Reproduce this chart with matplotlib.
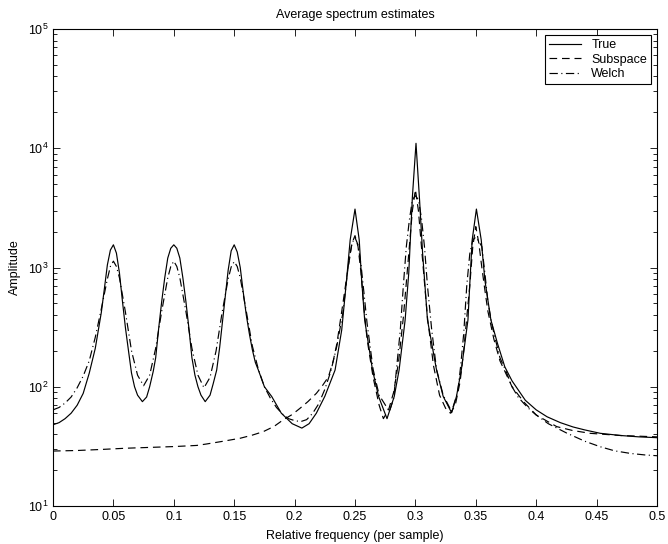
import matplotlib
matplotlib.use("Agg")
import matplotlib.pyplot as plt
from matplotlib.ticker import LogLocator, FixedLocator

plt.rcParams['font.family'] = ['Liberation Sans', 'DejaVu Sans']
plt.rcParams['mathtext.fontset'] = 'custom'
plt.rcParams['mathtext.rm'] = 'Liberation Sans'
plt.rcParams['mathtext.it'] = 'Liberation Sans'
plt.rcParams['lines.scale_dashes'] = False

# (frequency, amplitude)
true_pts = [(0.000, 48), (0.005, 50), (0.010, 54), (0.015, 60), (0.020, 70), (0.025, 88), (0.030, 130),
            (0.035, 210), (0.040, 420), (0.0425, 660), (0.045, 1050), (0.0475, 1400), (0.050, 1550),
            (0.0525, 1320), (0.055, 900), (0.0575, 520), (0.060, 310), (0.0625, 200), (0.065, 130),
            (0.0675, 100), (0.070, 85), (0.074, 75), (0.0775, 82), (0.080, 100), (0.083, 135), (0.085, 175),
            (0.0875, 310), (0.090, 520), (0.0925, 820), (0.095, 1200), (0.0975, 1450), (0.100, 1550),
            (0.1025, 1450), (0.105, 1200), (0.1075, 820), (0.110, 520), (0.1125, 310), (0.115, 175),
            (0.1175, 125), (0.120, 100), (0.1225, 85), (0.126, 75), (0.130, 85), (0.1325, 105), (0.1355, 138),
            (0.138, 215), (0.140, 330), (0.1425, 560), (0.145, 950), (0.1475, 1380), (0.150, 1550),
            (0.1525, 1350), (0.155, 1000), (0.1575, 620), (0.160, 400), (0.1625, 280), (0.165, 205),
            (0.1675, 160), (0.170, 138), (0.175, 100), (0.181, 83), (0.189, 60), (0.198, 49), (0.206, 45),
            (0.212, 49), (0.218, 60), (0.225, 83), (0.2335, 138), (0.239, 299), (0.243, 785), (0.246, 1700),
            (0.250, 3090), (0.2535, 1700), (0.2555, 785), (0.258, 363), (0.2645, 138), (0.2695, 83),
            (0.2765, 54), (0.2825, 83), (0.2865, 138), (0.2915, 363), (0.2945, 900), (0.2975, 3900),
            (0.3005, 11000), (0.3035, 3600), (0.306, 1300), (0.310, 363), (0.3175, 138), (0.323, 83),
            (0.330, 60.5), (0.334, 83), (0.338, 138), (0.3435, 363), (0.3452, 785), (0.347, 1700),
            (0.3505, 3090), (0.3545, 1700), (0.3575, 785), (0.3625, 363), (0.368, 230), (0.374, 147),
            (0.380, 112), (0.391, 77), (0.400, 64), (0.409, 56), (0.420, 50), (0.4305, 46), (0.440, 43.5),
            (0.453, 40.7), (0.470, 39), (0.485, 38), (0.500, 37.4)]

subspace_pts = [(0.000, 28.9), (0.020, 29.2), (0.040, 29.8), (0.060, 30.5), (0.080, 31.0), (0.100, 31.5),
                (0.119, 32.2), (0.127, 33.1), (0.140, 34.8), (0.155, 37), (0.165, 39.3), (0.174, 42),
                (0.183, 46.5), (0.1905, 52.7), (0.198, 58.5), (0.2045, 66), (0.211, 75), (0.218, 88),
                (0.223, 102), (0.228, 121), (0.232, 165), (0.235, 230), (0.240, 500), (0.2425, 750),
                (0.245, 1100), (0.2475, 1600), (0.250, 1850), (0.2525, 1500), (0.255, 900), (0.2575, 450),
                (0.260, 250), (0.265, 120), (0.270, 70), (0.2735, 54), (0.278, 65), (0.282, 90), (0.286, 160),
                (0.290, 380), (0.2925, 750), (0.295, 1500), (0.2975, 3000), (0.300, 4500), (0.3025, 3000),
                (0.305, 1500), (0.3075, 750), (0.310, 380), (0.315, 150), (0.320, 85), (0.325, 66),
                (0.329, 60), (0.333, 70), (0.337, 110), (0.340, 200), (0.3425, 380), (0.345, 700),
                (0.3475, 1500), (0.350, 2200), (0.3525, 1600), (0.355, 1000), (0.3575, 650), (0.360, 430),
                (0.365, 250), (0.370, 165), (0.380, 100), (0.390, 74), (0.400, 58), (0.417, 46.3),
                (0.430, 43), (0.4445, 40.7), (0.470, 39), (0.500, 38)]

welch_pts = [(0.000, 64), (0.005, 67), (0.010, 73), (0.015, 82), (0.020, 98), (0.025, 123), (0.030, 165),
             (0.035, 260), (0.040, 450), (0.045, 800), (0.0475, 1020), (0.050, 1130), (0.0525, 1020),
             (0.055, 820), (0.060, 420), (0.065, 200), (0.070, 125), (0.075, 102), (0.080, 125), (0.085, 210),
             (0.090, 430), (0.095, 820), (0.0975, 1020), (0.100, 1130), (0.1025, 1020), (0.105, 820),
             (0.110, 430), (0.115, 210), (0.120, 125), (0.125, 98), (0.130, 120), (0.135, 200), (0.140, 420),
             (0.145, 800), (0.1475, 1010), (0.150, 1120), (0.1525, 1020), (0.155, 820), (0.160, 430),
             (0.165, 220), (0.170, 140), (0.175, 100), (0.180, 80), (0.185, 67), (0.190, 59), (0.195, 54),
             (0.200, 52), (0.205, 51), (0.210, 53), (0.215, 60), (0.220, 72), (0.225, 95), (0.230, 135),
             (0.235, 220), (0.240, 420), (0.2425, 700), (0.245, 1150), (0.2475, 1600), (0.250, 1780),
             (0.2525, 1550), (0.255, 1050), (0.2575, 600), (0.260, 340), (0.265, 140), (0.270, 85),
             (0.2785, 62), (0.282, 80), (0.2875, 300), (0.290, 700), (0.2925, 1500), (0.295, 2500),
             (0.2975, 3700), (0.300, 4000), (0.3025, 3700), (0.305, 2600), (0.3075, 1500), (0.310, 700),
             (0.3135, 300), (0.3175, 140), (0.323, 85), (0.330, 62), (0.335, 90), (0.3375, 150), (0.340, 280),
             (0.3425, 700), (0.345, 1300), (0.3475, 1700), (0.350, 1800), (0.3525, 1650), (0.355, 1500),
             (0.3575, 900), (0.360, 520), (0.3625, 370), (0.365, 280), (0.370, 175), (0.375, 135),
             (0.380, 100), (0.385, 82), (0.390, 72), (0.395, 64), (0.400, 58), (0.410, 49), (0.425, 41),
             (0.440, 35), (0.453, 31.4), (0.465, 29), (0.478, 27.6), (0.490, 26.8), (0.500, 26.4)]

series_labels = ["True", "Subspace", "Welch"]
x_ticks = [0, 0.05, 0.1, 0.15, 0.2, 0.25, 0.3, 0.35, 0.4, 0.45, 0.5]
x_tick_labels = ["0", "0.05", "0.1", "0.15", "0.2", "0.25", "0.3", "0.35", "0.4", "0.45", "0.5"]

fig = plt.figure(figsize=(6.68, 5.44), dpi=100)
ax = fig.add_axes([53/668, 1-506/544, (657-53)/668, (506-29)/544])

lw = 0.85
styles = [dict(linestyle='-'),
          dict(linestyle=(0, (5.5, 3.5))),
          dict(linestyle=(0, (6, 2.5, 0.8, 2.5)))]
for pts, lab, st in zip([true_pts, subspace_pts, welch_pts], series_labels, styles):
    fx = [p[0] for p in pts]
    vy = [p[1] for p in pts]
    ax.plot(fx, vy, color='black', linewidth=lw, label=lab, **st)

ax.set_yscale('log')
ax.set_xlim(0, 0.5)
ax.set_ylim(10, 1e5)
ax.xaxis.set_major_locator(FixedLocator(x_ticks))
ax.set_xticklabels(x_tick_labels)
ax.yaxis.set_major_locator(LogLocator(base=10, numticks=10))
ax.yaxis.set_minor_locator(LogLocator(base=10, subs=range(2, 10), numticks=20))
ax.tick_params(which='both', direction='in', top=True, right=True, labelsize=9, width=0.6)
ax.tick_params(which='major', length=5)
ax.tick_params(which='minor', length=3)
for s in ax.spines.values():
    s.set_linewidth(0.8)

ax.set_title("Average spectrum estimates", fontsize=9, pad=8)
ax.set_xlabel("Relative frequency (per sample)", fontsize=9, labelpad=5)
ax.set_ylabel("Amplitude", fontsize=9, labelpad=5)

leg = ax.legend(loc='upper right', fontsize=9, frameon=True, fancybox=False, edgecolor='black',
                framealpha=1, handlelength=2.6, borderaxespad=0.5, borderpad=0.3, labelspacing=0.2)
leg.get_frame().set_linewidth(0.8)

fig.savefig("out.png", dpi=100)
